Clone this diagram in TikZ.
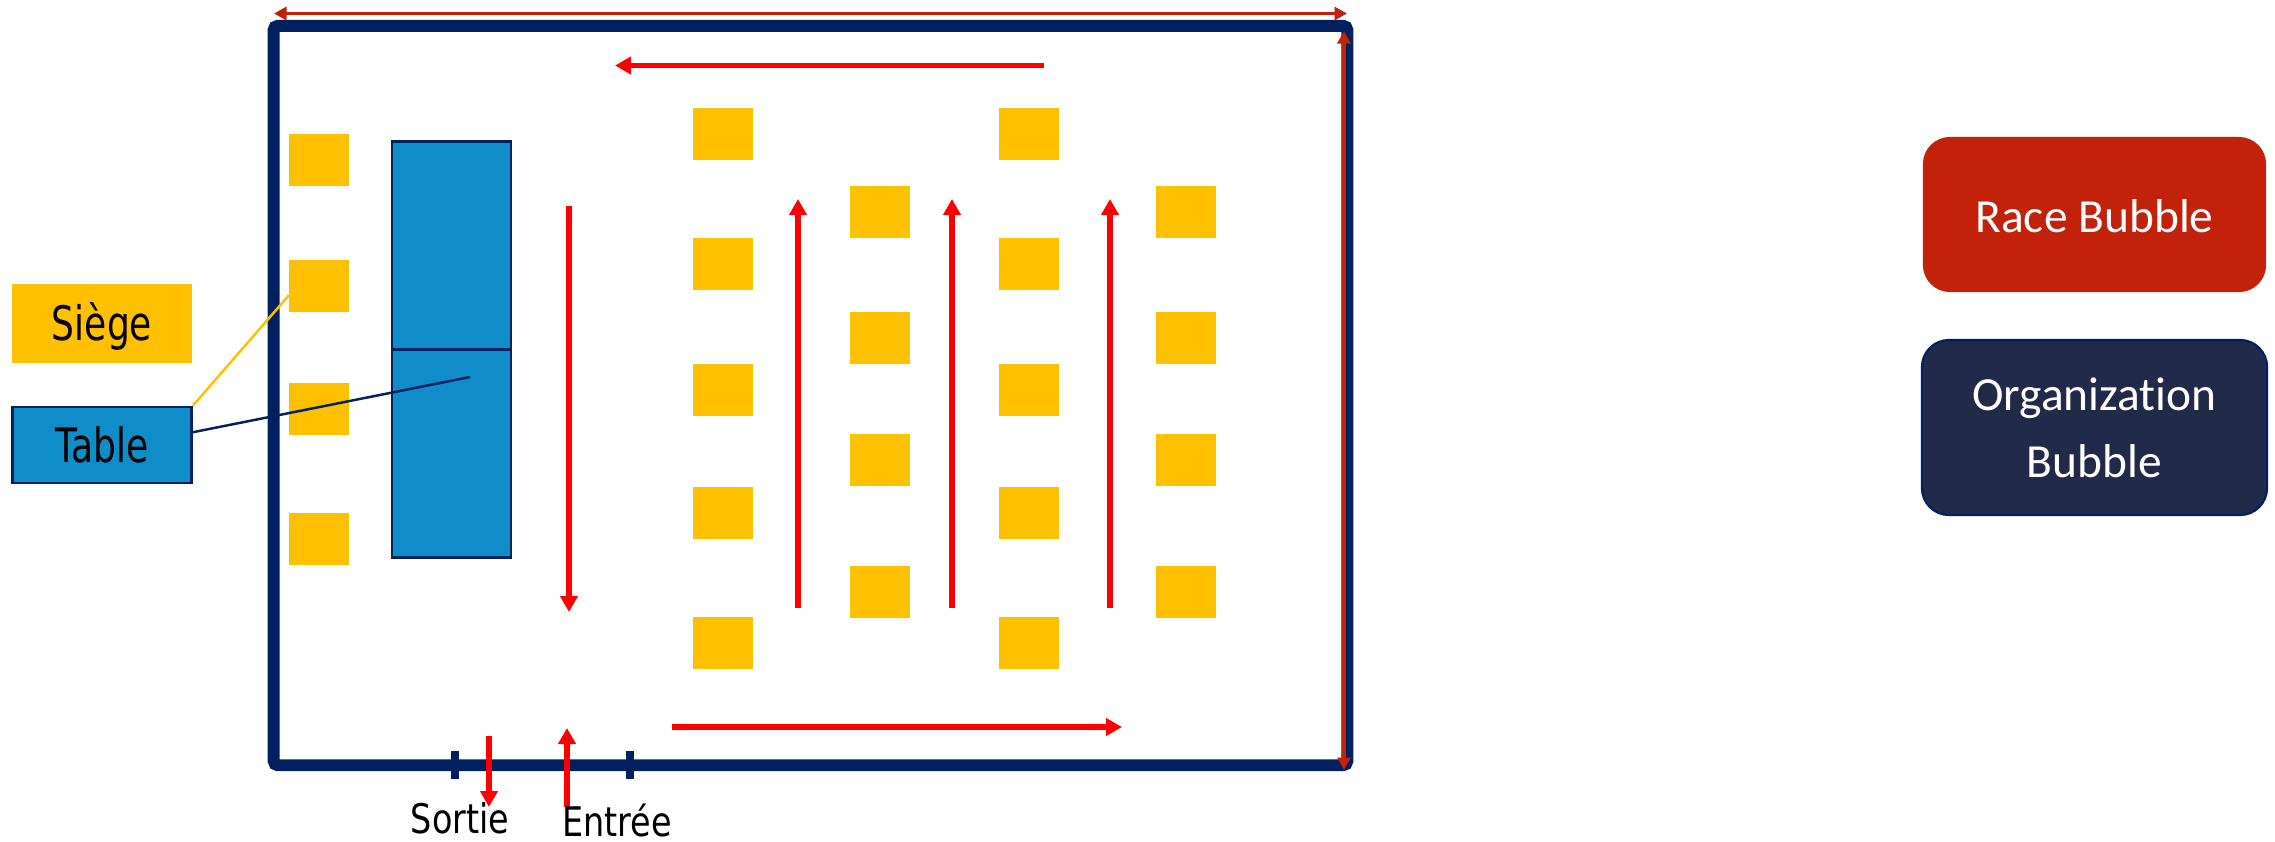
\documentclass[tikz,border=0pt]{standalone}
\usepackage{fontspec}
\newfontfamily\keyfont[FakeStretch=0.76]{DejaVu Sans}
\newfontfamily\doorfont[FakeStretch=0.82]{DejaVu Sans}
\newfontfamily\bubblefont[Ligatures=NoCommon]{Carlito}
\definecolor{seatgold}{RGB}{255, 192, 0}
\definecolor{tableblue}{RGB}{14, 141, 200}
\definecolor{roomnavy}{RGB}{0, 32, 96}
\definecolor{racered}{RGB}{194, 33, 10}
\definecolor{orgnavy}{RGB}{34, 42, 73}
\usetikzlibrary{arrows.meta}

\begin{document}
\begin{tikzpicture}[
  x=0.01cm, y=-0.01cm,
  seat/.style={fill=seatgold, minimum width=0.6cm, minimum height=0.52cm, inner sep=0pt, outer sep=0pt},
  tablepart/.style={draw=roomnavy, fill=tableblue, line width=0.7pt, minimum width=1.19cm, minimum height=2.08cm, inner sep=0pt},
  room/.style={draw=roomnavy, line width=3.4pt, rounded corners=1.2pt, minimum width=10.73cm, minimum height=7.39cm, inner sep=0pt},
  doorpost/.style={draw=roomnavy, line width=2.3pt},
  flow/.style={draw=red, line width=1.5pt, -{Triangle[length=0.16cm, width=0.17cm]}},
  racearrow/.style={draw=racered, line width=0.9pt},
  bubble/.style={text=white, rounded corners=0.27cm, inner sep=0pt, align=center, font=\bubblefont\fontsize{13.5}{19}\selectfont},
  keybox/.style={minimum width=1.79cm, inner sep=0pt, text height=10.4pt, text depth=0.6pt, font=\keyfont\fontsize{13.5}{16}\selectfont},
  doorlabel/.style={anchor=base, inner sep=0pt, font=\doorfont\fontsize{11.6}{13}\selectfont}
]
  \useasboundingbox (0,0) rectangle (2275,841);

  % room and door
  \node[room] (room) at (810.5,395.5) {};
  \coordinate (sortiepost) at (455,751);
  \coordinate (sortiepostend) at (455,779);
  \coordinate (entreepost) at (630,751);
  \coordinate (entreepostend) at (630,779);
  \draw[doorpost] (sortiepost) -- (sortiepostend);
  \draw[doorpost] (entreepost) -- (entreepostend);

  % seats along the wall
  \node[seat] (wall1) at (319,160) {};
  \node[seat] (wall2) at (319,286) {};
  \node[seat] (wall3) at (319,409) {};
  \node[seat] (wall4) at (319,539) {};

  % seats in the room
  \node[seat] (a1) at (723,133.5) {};
  \node[seat] (a2) at (723,264) {};
  \node[seat] (a3) at (723,390) {};
  \node[seat] (a4) at (723,513) {};
  \node[seat] (a5) at (723,643) {};
  \node[seat] (b1) at (880,212) {};
  \node[seat] (b2) at (880,338) {};
  \node[seat] (b3) at (880,460) {};
  \node[seat] (b4) at (880,592) {};
  \node[seat] (c1) at (1029,133.5) {};
  \node[seat] (c2) at (1029,264) {};
  \node[seat] (c3) at (1029,390) {};
  \node[seat] (c4) at (1029,513) {};
  \node[seat] (c5) at (1029,643) {};
  \node[seat] (d1) at (1186,212) {};
  \node[seat] (d2) at (1186,338) {};
  \node[seat] (d3) at (1186,460) {};
  \node[seat] (d4) at (1186,592) {};

  % table
  \node[tablepart] (tabletop) at (451.5,245.5) {};
  \node[tablepart] (tablebottom) at (451.5,453.5) {};

  % legend
  \node[keybox, fill=seatgold, minimum height=0.79cm] (seatkey) at (102,323.5) {Siège};
  \node[keybox, draw=roomnavy, fill=tableblue, line width=0.7pt, minimum height=0.76cm] (tablekey) at (102,445) {Table};
  \coordinate (tableend) at (470,377);
  \draw[seatgold, line width=0.7pt] (tablekey.north east) -- (wall2.197);
  \draw[roomnavy, line width=0.7pt] (tablekey.8) -- (tableend);

  % walking directions
  \coordinate (backstart) at (1044,65.5);
  \coordinate (backend) at (615,65.5);
  \coordinate (downstart) at (569,206);
  \coordinate (downend) at (569,612);
  \coordinate (up1start) at (798,608);
  \coordinate (up1end) at (798,199);
  \coordinate (up2start) at (952,608);
  \coordinate (up2end) at (952,199);
  \coordinate (up3start) at (1110,608);
  \coordinate (up3end) at (1110,199);
  \coordinate (frontstart) at (672,727);
  \coordinate (frontend) at (1122,727);
  \coordinate (sortiestart) at (489,736);
  \coordinate (sortieend) at (489,807);
  \coordinate (entreestart) at (567,807);
  \coordinate (entreeend) at (567,728);
  \draw[flow] (backstart) -- (backend);
  \draw[flow] (downstart) -- (downend);
  \draw[flow] (up1start) -- (up1end);
  \draw[flow] (up2start) -- (up2end);
  \draw[flow] (up3start) -- (up3end);
  \draw[flow] (frontstart) -- (frontend);
  \draw[flow] (sortiestart) -- (sortieend);
  \draw[flow] (entreestart) -- (entreeend);

  % race extent
  \coordinate (widthleft) at (274,13.5);
  \coordinate (widthright) at (1347,13.5);
  \coordinate (depthtop) at (1344,31);
  \coordinate (depthbottom) at (1344,770);
  \draw[racearrow, {Triangle[length=0.125cm, width=0.13cm]}-{Triangle[length=0.125cm, width=0.13cm]}] (widthleft) -- (widthright);
  \draw[racearrow, {Triangle[length=0.125cm, width=0.13cm]}-{Triangle[length=0.125cm, width=0.13cm]}] (depthtop) -- (depthbottom);

  % door labels
  \node[doorlabel] (sortie) at (460,833) {Sortie};
  \node[doorlabel] (entree) at (617,836) {Entrée};

  % bubbles
  \node[bubble, fill=racered, minimum width=3.43cm, minimum height=1.55cm, text height=10.2pt, text depth=0pt] (racebubble) at (2094.5,214.5) {Race Bubble};
  \node[bubble, draw=roomnavy, fill=orgnavy, line width=0.6pt, minimum width=3.45cm, minimum height=1.75cm] (orgbubble) at (2094.5,427.5) {Organization\\Bubble};
\end{tikzpicture}
\end{document}
